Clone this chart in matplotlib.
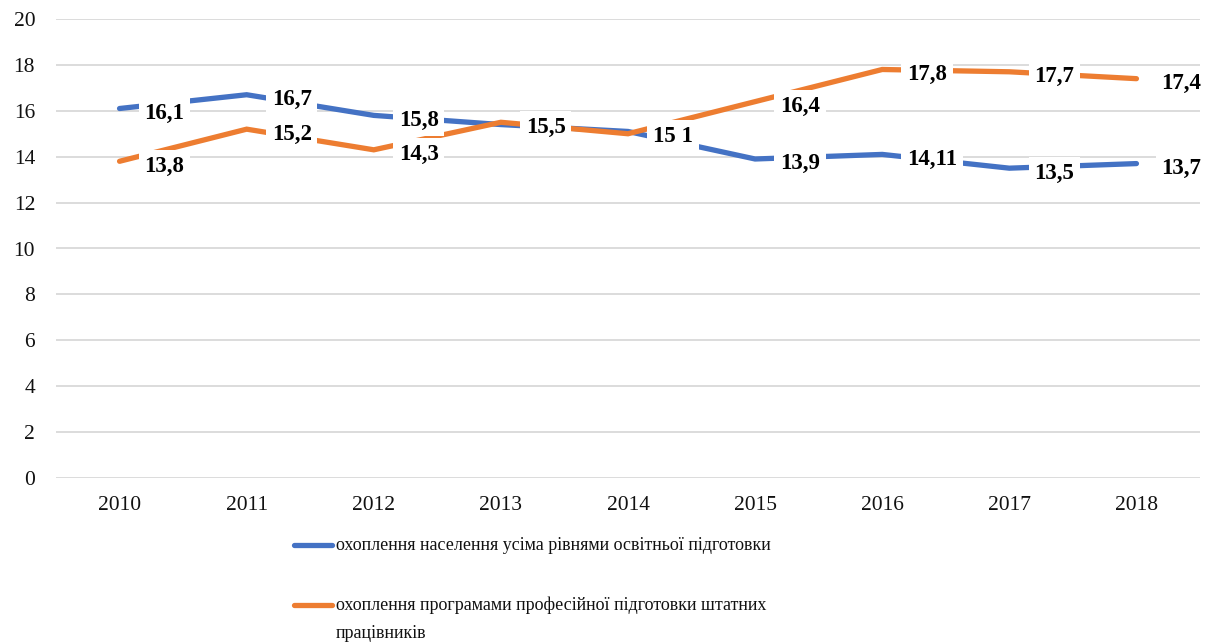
import matplotlib
matplotlib.use("Agg")
import matplotlib.pyplot as plt
from matplotlib.lines import Line2D

years = ["2010", "2011", "2012", "2013", "2014", "2015", "2016", "2017", "2018"]
pop_values = [16.1, 16.7, 15.8, 15.4, 15.1, 13.9, 14.1, 13.5, 13.7]
pop_labels = ["16,1", "16,7", "15,8", "", "15 1", "13,9", "14,11", "13,5", "13,7"]
staff_values = [13.8, 15.2, 14.3, 15.5, 15.0, 16.4, 17.8, 17.7, 17.4]
staff_labels = ["13,8", "15,2", "14,3", "15,5", "", "16,4", "17,8", "17,7", "17,4"]
series_names = [
    "охоплення населення усіма рівнями освітньої підготовки",
    "охоплення програмами професійної підготовки штатних\nпрацівників",
]
yticks = [0, 2, 4, 6, 8, 10, 12, 14, 16, 18, 20]

BLUE = "#4472C4"
ORANGE = "#ED7D31"
FONT = "Liberation Serif"

W, H = 1215, 644
fig = plt.figure(figsize=(W / 100, H / 100), dpi=100)
ax = fig.add_axes([56 / W, 1 - 478 / H, (1200 - 56) / W, (478 - 19) / H])

x = list(range(len(years)))
for vals, col in [(pop_values, BLUE), (staff_values, ORANGE)]:
    ax.plot(x, vals, color=col, lw=3.8, solid_capstyle="round", solid_joinstyle="miter", zorder=3)

for vals, labs in [(pop_values, pop_labels), (staff_values, staff_labels)]:
    for xi, v, t in zip(x, vals, labs):
        if not t:
            continue
        ax.annotate(t, (xi, v), xytext=(18, -3.5), textcoords="offset points",
                    ha="left", va="center", fontsize=16.5, fontweight="bold",
                    family=FONT, color="black", zorder=5,
                    bbox=dict(boxstyle="square,pad=0.25", fc="white", ec="none"))

ax.set_xlim(-0.5, len(years) - 0.5)
ax.set_ylim(0, 20)
ax.set_yticks(yticks)
ax.set_xticks(x)
ax.set_xticklabels(years)
ax.grid(axis="y", color="#D9D9D9", lw=1.3, zorder=0)
ax.set_axisbelow(True)
for s in ax.spines.values():
    s.set_visible(False)
ax.tick_params(axis="both", length=0, labelsize=15.5, colors="#111111")
ax.tick_params(axis="x", pad=13)
ax.tick_params(axis="y", pad=15)
for lab in ax.get_xticklabels() + ax.get_yticklabels():
    lab.set_family(FONT)

# legend (manual layout)
for (ypix, col, name) in [(545, BLUE, series_names[0]), (605, ORANGE, series_names[1])]:
    yf = 1 - ypix / H
    fig.add_artist(Line2D([294 / W, 332 / W], [yf, yf], transform=fig.transFigure,
                          color=col, lw=3.8, solid_capstyle="round"))
    if "\n" in name:
        fig.text(336 / W, 1 - (ypix - 8) / H, name, ha="left", va="top",
                 fontsize=13, family=FONT, color="#111111", linespacing=1.8)
    else:
        fig.text(336 / W, yf, name, ha="left", va="center",
                 fontsize=13, family=FONT, color="#111111")

fig.savefig("out.png", dpi=100)
